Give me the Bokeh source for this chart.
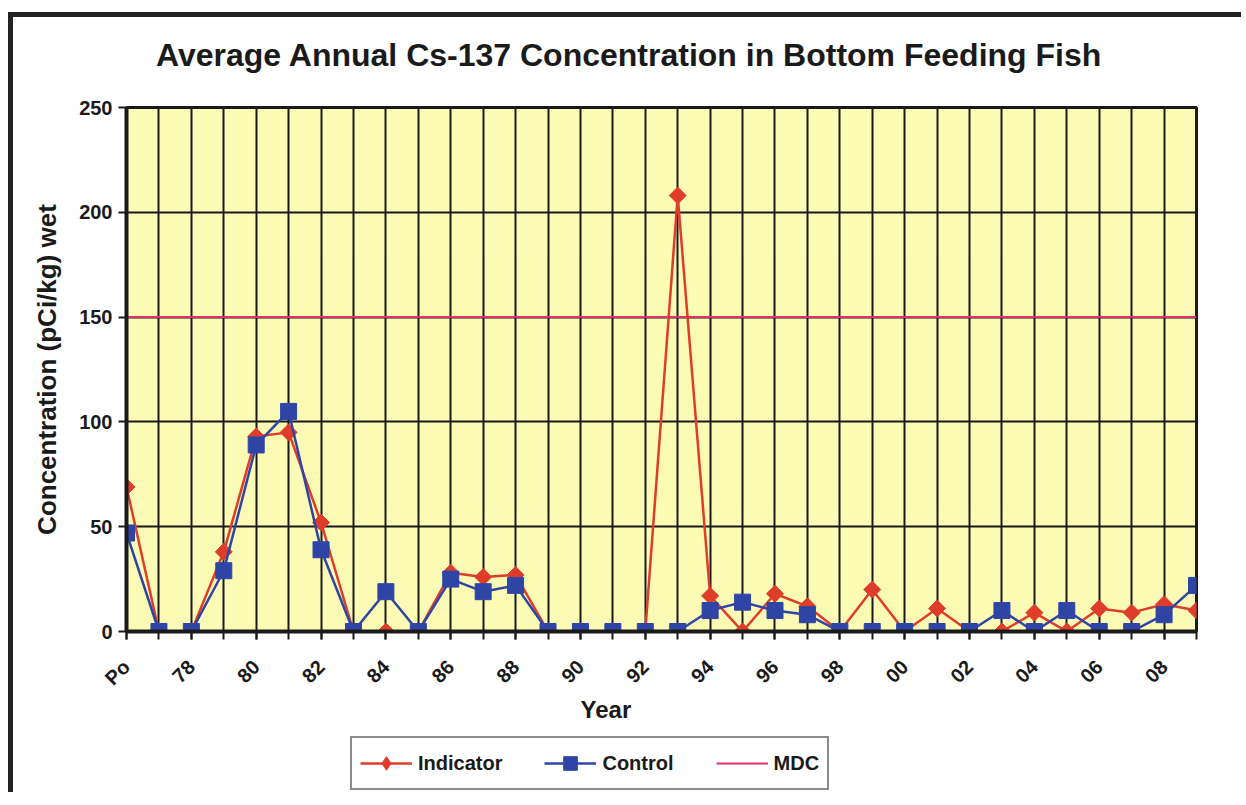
import math
from bokeh.plotting import figure
from bokeh.layouts import column
from bokeh.models import Range1d, FixedTicker, Legend, LegendItem, Title, Div
from bokeh.embed import file_html
from bokeh.resources import INLINE

# ---- data ----
years = ["Po", "77", "78", "79", "80", "81", "82", "83", "84", "85", "86", "87",
         "88", "89", "90", "91", "92", "93", "94", "95", "96", "97", "98", "99",
         "00", "01", "02", "03", "04", "05", "06", "07", "08", "09"]
indicator = [69, 0, 0, 38, 93, 95, 52, 0, 0, 0, 28, 26, 27, 0, 0, 0, 0, 208,
             17, 0, 18, 12, 0, 20, 0, 11, 0, 0, 9, 0, 11, 9, 13, 10]
control = [47, 0, 0, 29, 89, 105, 39, 0, 19, 0, 25, 19, 22, 0, 0, 0, 0, 0,
           10, 14, 10, 8, 0, 0, 0, 0, 0, 10, 0, 10, 0, 0, 8, 22]
mdc_level = 150
y_ticks = [0, 50, 100, 150, 200, 250]

title_text = "Average Annual Cs-137 Concentration in Bottom Feeding Fish"
y_title = "Concentration (pCi/kg) wet"
x_title = "Year"
series_names = ["Indicator", "Control", "MDC"]

FONT = "Liberation Sans"
DARK = "#1a1a1a"
RED = "#E03C2A"
BLUE = "#2F45A6"
PINK = "#E2306A"
W = 113 + 1070 + 45

n = len(years)
xs = list(range(n))
mdc = [mdc_level] * n
series_values = [indicator, control, mdc]

# ---- title (HTML text above the chart) ----
title_div = Div(
    text=('<div style="font: bold 32px \'Liberation Sans\'; line-height: 32px;'
          ' color: #1a1a1a; padding: 22px 0 0 143px; white-space: nowrap;">'
          + title_text + '</div>'),
    width=W, height=60, margin=0)

# ---- main chart ----
p = figure(frame_width=1070, frame_height=524,
           min_border_left=113, min_border_top=30, min_border_right=45,
           min_border_bottom=105,
           x_range=Range1d(0, n - 1), y_range=Range1d(0, 250),
           output_backend="svg", toolbar_location=None,
           background_fill_color="#FBFBB6", border_fill_color="white",
           outline_line_color=DARK, outline_line_width=3)

# grids
p.xgrid.ticker = FixedTicker(ticks=xs)
p.xgrid.grid_line_color = DARK
p.xgrid.grid_line_width = 2
p.ygrid.grid_line_color = DARK
p.ygrid.grid_line_width = 2

# axes
p.xaxis.ticker = FixedTicker(ticks=xs[::2], minor_ticks=xs)
p.xaxis.major_label_overrides = {i: years[i] for i in xs[::2]}
p.xaxis.major_label_orientation = math.pi / 4
p.yaxis.ticker = FixedTicker(ticks=y_ticks)
p.yaxis.axis_label = y_title
p.yaxis.axis_label_standoff = 14

for ax in (p.xaxis[0], p.yaxis[0]):
    ax.axis_line_color = DARK
    ax.axis_line_width = 4
    ax.major_tick_line_color = DARK
    ax.major_tick_line_width = 2
    ax.major_tick_out = 8
    ax.major_tick_in = 0
    ax.major_label_text_font = FONT
    ax.major_label_text_font_style = "bold"
    ax.major_label_text_color = DARK
    ax.axis_label_text_font = FONT
    ax.axis_label_text_font_style = "bold"
    ax.axis_label_text_color = DARK
p.yaxis.major_label_standoff = 6
p.xaxis.major_label_standoff = 24
p.xaxis.minor_tick_line_color = DARK
p.xaxis.minor_tick_line_width = 2
p.xaxis.minor_tick_out = 8
p.xaxis.minor_tick_in = 0
p.yaxis.minor_tick_line_color = None
p.xaxis.major_label_text_font_size = "20px"
p.yaxis.major_label_text_font_size = "20px"
p.yaxis.axis_label_text_font_size = "26px"

# series
line_styles = [dict(line_color=RED, line_width=2.5),
               dict(line_color=BLUE, line_width=2.5),
               dict(line_color=PINK, line_width=2)]
marker_styles = [dict(marker="square", angle=math.pi / 4, size=12,
                      fill_color=RED, line_color=RED),
                 dict(marker="square", size=16, fill_color=BLUE,
                      line_color=BLUE),
                 None]
legend_marker_styles = [dict(marker="diamond", size=16, fill_color=RED,
                             line_color=RED),
                        marker_styles[1], None]

p.line(xs, mdc, **line_styles[2])
p.line(xs, indicator, **line_styles[0])
p.scatter(xs, indicator, **marker_styles[0])
p.line(xs, control, **line_styles[1])
p.scatter(xs, control, **marker_styles[1])

# x title in the below panel
p.add_layout(Title(text=x_title, align="left", offset=454, standoff=-14,
                   text_font=FONT, text_font_style="bold",
                   text_font_size="24px", text_color=DARK), "below")

# ---- legend strip (own figure; its ranges show none of the data) ----
lg = figure(width=W, height=56, x_axis_type=None, y_axis_type=None,
            x_range=Range1d(n + 5, n + 6), y_range=Range1d(0, 1),
            min_border=0, outline_line_color=None, toolbar_location=None,
            output_backend="svg", background_fill_color="white",
            border_fill_color="white")
lg.xgrid.visible = False
lg.ygrid.visible = False
items = []
for name, vals, ls, ms in zip(series_names, series_values, line_styles,
                              legend_marker_styles):
    rs = [lg.line(xs, vals, **ls)]
    if ms is not None:
        rs.append(lg.scatter(xs, vals, **ms))
    items.append(LegendItem(label=name, renderers=rs))
legend = Legend(items=items, orientation="horizontal", location=(224, 2),
                glyph_width=52, glyph_height=34, label_height=20,
                label_standoff=6, spacing=42, padding=8, margin=0,
                border_line_color=DARK, border_line_width=2,
                background_fill_color="white", background_fill_alpha=1,
                label_text_font=FONT, label_text_font_style="bold",
                label_text_font_size="20px", label_text_color=DARK)
lg.add_layout(legend)

layout = column(title_div, p, lg, spacing=0)
layout.styles = {"border-left": "5px solid #222", "border-top": "5px solid #222",
                 "margin-top": "12px", "margin-left": "8px"}

open("out.html", "w").write(file_html(layout, INLINE))
